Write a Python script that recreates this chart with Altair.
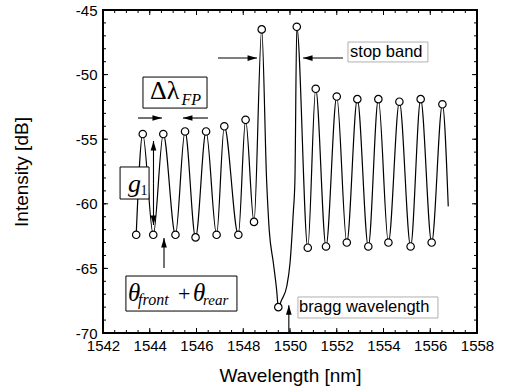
import altair as alt
import pandas as pd

# ---- spectrum: Fabry-Perot fringes around a Bragg stop band ----
peak_nm = [1543.70, 1544.58, 1545.51, 1546.41, 1547.19, 1548.10, 1548.79, 1550.29,
           1551.10, 1552.00, 1552.88, 1553.78, 1554.68, 1555.59, 1556.52]
peak_db = [-54.6, -54.6, -54.4, -54.4, -54.0, -53.5, -46.5, -46.3,
           -51.1, -51.7, -51.9, -51.9, -52.1, -51.9, -52.3]
dip_nm = [1543.42, 1544.15, 1545.10, 1545.96, 1546.86, 1547.79, 1548.46, 1549.50,
          1550.76, 1551.54, 1552.43, 1553.35, 1554.21, 1555.16, 1556.06]
dip_db = [-62.4, -62.4, -62.4, -62.6, -62.4, -62.4, -61.4, -68.0,
          -63.4, -63.3, -63.0, -63.3, -63.0, -63.3, -63.0]
# walls of the stop band and the tail of the trace
wall_nm = [1549.00, 1549.11, 1549.29, 1549.43, 1549.64, 1549.86, 1550.00, 1550.14, 1550.21, 1556.77]
wall_db = [-58.2, -62.0, -64.6, -66.7, -67.45, -66.4, -64.6, -60.7, -58.2, -60.2]

x_major = [1542, 1544, 1546, 1548, 1550, 1552, 1554, 1556, 1558]
y_major = [-70, -65, -60, -55, -50, -45]
x_minor = [1542 + 0.5 * i for i in range(33)]
y_minor = [-70 + i for i in range(26)]

# ---- annotation boxes (x0, x1, y0, y1 in data units) ----
box_x0 = [1543.71, 1542.73, 1542.98]
box_x1 = [1546.45, 1543.97, 1547.73]
box_y0 = [-50.19, -57.15, -65.59]
box_y1 = [-52.59, -59.63, -68.30]
label_box_x0 = [1552.48, 1550.34]
label_box_x1 = [1555.90, 1556.33]
label_box_y0 = [-47.48, -67.21]
label_box_y1 = [-49.02, -68.84]

# ---- arrows: tail (x1, y1) -> tip (x2, y2), head angle ----
arrow_x1 = [1543.50, 1546.49, 1546.92, 1552.27, 1544.16, 1544.16, 1544.61, 1549.95]
arrow_y1 = [-53.36, -53.36, -48.72, -48.72, -58.4, -58.4, -64.97, -70.0]
arrow_x2 = [1544.52, 1545.42, 1548.59, 1550.56, 1544.16, 1544.16, 1544.61, 1549.95]
arrow_y2 = [-53.36, -53.36, -48.72, -48.72, -55.14, -61.64, -62.65, -67.85]
arrow_angle = [0, 180, 0, 180, 270, 90, 270, 270]

# ---- math labels inside the boxes ----
math_text = ["Δλ", "FP", "g", "1", "θ", "front", "+", "θ", "rear"]
math_x = [1544.01, 1545.36, 1543.07, 1543.60, 1543.07, 1543.50, 1545.21, 1545.85, 1546.28]
math_y = [-51.89, -52.35, -59.06, -59.32, -67.52, -67.83, -67.52, -67.52, -67.83]
math_size = [26, 16, 26, 14, 25, 16, 22, 25, 15]
math_style = ["normal", "italic", "italic", "normal", "italic", "italic", "normal", "italic", "italic"]

label_text = ["stop band", "bragg wavelength"]
label_x = [1552.57, 1550.39]
label_y = [-48.25, -67.99]

W, H = 374, 323
XS = alt.Scale(domain=[1542, 1558], nice=False, zero=False)
YS = alt.Scale(domain=[-70, -45], nice=False, zero=False)
AX = alt.Axis(values=x_major, format="d", ticks=False, domain=False, grid=False,
              labelOverlap=False, labelFlush=False, labelPadding=5, titlePadding=13,
              title="Wavelength [nm]")
AY = alt.Axis(values=y_major, labelExpr="datum.value", ticks=False, domain=False,
              grid=False, labelOverlap=False, labelFlush=False, labelPadding=6,
              titlePadding=44, title="Intensity [dB]")


def X(field):
    return alt.X(field, scale=XS, axis=AX)


def Y(field):
    return alt.Y(field, scale=YS, axis=AY)


trace = pd.DataFrame({"nm": peak_nm + dip_nm + wall_nm,
                      "db": peak_db + dip_db + wall_db}).sort_values("nm")
marks = pd.DataFrame({"nm": peak_nm + dip_nm, "db": peak_db + dip_db})

line = alt.Chart(trace).mark_line(color="black", strokeWidth=1.2, interpolate="monotone").encode(
    x=X("nm:Q"), y=Y("db:Q"))

circles = alt.Chart(marks).mark_point(shape="circle", size=55, filled=True, fill="white",
                                      stroke="black", strokeWidth=1.2, opacity=1).encode(
    x=X("nm:Q"), y=Y("db:Q"))


def xticks(vals, length):
    d = pd.DataFrame({"v": vals})
    bottom = alt.Chart(d).mark_rule(color="black", strokeWidth=1).encode(
        x=X("v:Q"), y=alt.value(H), y2=alt.value(H - length))
    top = alt.Chart(d).mark_rule(color="black", strokeWidth=1).encode(
        x=X("v:Q"), y=alt.value(0), y2=alt.value(length))
    return [bottom, top]


def yticks(vals, length):
    d = pd.DataFrame({"v": vals})
    left = alt.Chart(d).mark_rule(color="black", strokeWidth=1).encode(
        y=Y("v:Q"), x=alt.value(0), x2=alt.value(length))
    right = alt.Chart(d).mark_rule(color="black", strokeWidth=1).encode(
        y=Y("v:Q"), x=alt.value(W), x2=alt.value(W - length))
    return [left, right]


tick_layers = xticks(x_minor, 3) + xticks(x_major, 5) + yticks(y_minor, 3) + yticks(y_major, 5)

boxes = alt.Chart(pd.DataFrame({"x0": box_x0, "x1": box_x1, "y0": box_y0, "y1": box_y1})).mark_rect(
    fill="white", stroke="black", strokeWidth=1).encode(
    x=X("x0:Q"), x2="x1:Q", y=Y("y0:Q"), y2="y1:Q")

label_boxes = alt.Chart(pd.DataFrame({"x0": label_box_x0, "x1": label_box_x1,
                                      "y0": label_box_y0, "y1": label_box_y1})).mark_rect(
    fill="white", stroke="#b0b0b0", strokeWidth=1).encode(
    x=X("x0:Q"), x2="x1:Q", y=Y("y0:Q"), y2="y1:Q")

arrows_df = pd.DataFrame({"x1": arrow_x1, "y1": arrow_y1, "x2": arrow_x2, "y2": arrow_y2,
                          "angle": arrow_angle})
shafts = alt.Chart(arrows_df).mark_rule(color="black", strokeWidth=1.1).encode(
    x=X("x1:Q"), x2="x2:Q", y=Y("y1:Q"), y2="y2:Q")
heads = alt.Chart(arrows_df).mark_point(shape="M0,0L-2,-0.6L-2,0.6Z", size=90, filled=True,
                                        color="black", opacity=1).encode(
    x=X("x2:Q"), y=Y("y2:Q"), angle=alt.Angle("angle:Q", scale=None))

math_df = pd.DataFrame({"t": math_text, "x": math_x, "y": math_y, "s": math_size, "st": math_style})
math_layers = []
for st in ["normal", "italic"]:
    math_layers.append(
        alt.Chart(math_df[math_df.st == st]).mark_text(
            align="left", baseline="alphabetic", font="Liberation Serif", fontStyle=st,
            color="black").encode(
            x=X("x:Q"), y=Y("y:Q"), text="t:N",
            size=alt.Size("s:Q", scale=None, legend=None)))

labels = alt.Chart(pd.DataFrame({"t": label_text, "x": label_x, "y": label_y})).mark_text(
    align="left", baseline="middle", font="Liberation Sans", fontSize=16.5, color="black").encode(
    x=X("x:Q"), y=Y("y:Q"), text="t:N")

chart = alt.layer(
    line, *tick_layers, shafts, heads, circles, boxes, label_boxes, *math_layers, labels
).properties(
    width=W, height=H, autosize="none", background="white",
    padding={"left": 103, "top": 10, "right": 28, "bottom": 58},
).configure_view(
    stroke="black", strokeWidth=2
).configure_axis(
    labelFont="Liberation Sans", labelFontSize=15, labelColor="black",
    titleFont="Liberation Sans", titleFontSize=19, titleFontWeight="normal", titleColor="black",
)

chart.save("out.html", embed_options={"renderer": "svg", "actions": False})
